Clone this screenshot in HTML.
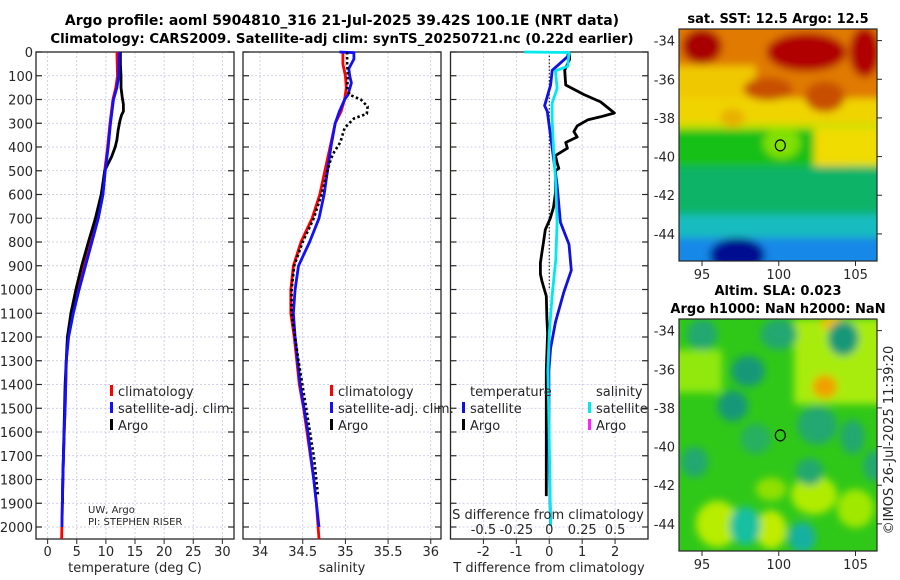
<!DOCTYPE html>
<html><head><meta charset="utf-8"><style>
html,body{margin:0;padding:0;background:#fff;width:900px;height:580px;overflow:hidden}
svg{display:block;font-family:"DejaVu Sans","Liberation Sans",sans-serif}
text{fill:#262626}
.ttl{font-weight:bold;font-size:13px;fill:#000}
</style></head><body>
<svg id="fig" width="900" height="580" viewBox="0 0 900 580" xmlns="http://www.w3.org/2000/svg">
<defs>
<filter id="blr" filterUnits="userSpaceOnUse" x="660" y="0" width="240" height="580"><feGaussianBlur stdDeviation="4"/></filter>
<clipPath id="c1"><rect x="679" y="29" width="198" height="232"/></clipPath>
<clipPath id="c2"><rect x="679" y="319" width="198" height="232"/></clipPath>
</defs>
<text class="ttl" x="342" y="25" text-anchor="middle" style="font-size:14px">Argo profile: aoml 5904810_316 21-Jul-2025 39.42S 100.1E (NRT data)</text>
<text class="ttl" x="342" y="43" text-anchor="middle" style="font-size:13.3px">Climatology: CARS2009. Satellite-adj clim: synTS_20250721.nc (0.22d earlier)</text>
<g id="g1"></g>
<g id="g2"></g>
<g id="g3"></g>
<g id="m1"></g>
<g id="m2"></g>
<text class="ttl" x="778" y="23" text-anchor="middle">sat. SST: 12.5 Argo: 12.5</text>
<text class="ttl" x="778" y="295" text-anchor="middle">Altim. SLA: 0.023</text>
<text class="ttl" x="778" y="313" text-anchor="middle">Argo h1000: NaN h2000: NaN</text>
<text x="893" y="440" font-size="13" text-anchor="middle" transform="rotate(-90 893 440)">©IMOS 26-Jul-2025 11:39:20</text>
</svg>
<script>
// ---------- data ----------
const depthTicks=[0,100,200,300,400,500,600,700,800,900,1000,1100,1200,1300,1400,1500,1600,1700,1800,1900,2000];
const tempTicks=[0,5,10,15,20,25,30];
const salTicks=[34,34.5,35,35.5,36];
const salTickLabels=["34","34.5","35","35.5","36"];
const tdiffTicks=[-2,-1,0,1,2];
const sdiffTicks=[-0.5,-0.25,0,0.25,0.5];
const sdiffTickLabels=["-0.5","-0.25","0","0.25","0.5"];

const depthClimT=[0,50,100,150,200,300,400,500,600,700,800,900,1000,1100,1200,1300,1400,1500,1600,1800,2000,2050];
const climT=[11.9,11.95,12.0,11.7,11.2,10.7,10.3,9.8,9.3,8.4,7.2,6.1,5.0,4.1,3.5,3.2,3.1,3.0,2.85,2.6,2.45,2.4];
const depthSatT=[0,50,100,150,200,300,400,500,600,700,800,900,1000,1100,1200,1300,1400,1500,1600,1800,2000];
const satT=[12.3,12.25,12.2,11.9,11.3,10.8,10.4,9.9,9.5,8.7,7.6,6.5,5.4,4.4,3.6,3.2,3.1,3.0,2.85,2.6,2.45];
const depthArgoT=[0,50,100,150,190,220,250,265,290,330,370,400,440,480,500,600,700,800,900,1000,1100,1200,1400,1600,1800,1900];
const argoT=[12.5,12.5,12.6,12.6,12.8,13.0,13.0,12.7,12.4,12.1,11.9,11.6,11.0,10.2,9.8,9.2,8.2,7.0,5.85,4.85,4.0,3.4,3.0,2.8,2.6,2.55];

const depthClimS=[0,50,100,150,200,250,300,400,500,600,700,800,900,1000,1100,1200,1300,1400,1500,1600,1700,1800,1900,2000,2050];
const climS=[34.97,34.97,35.0,35.01,34.99,34.95,34.88,34.82,34.76,34.70,34.61,34.48,34.39,34.36,34.36,34.40,34.43,34.46,34.51,34.55,34.59,34.63,34.66,34.68,34.69];
const depthSatS=[0,3,30,70,100,130,180,200,250,300,400,500,600,700,800,900,1000,1100,1200,1400,1600,1800,2000];
const satS=[34.93,35.1,35.1,35.04,35.05,35.07,35.03,34.99,34.93,34.88,34.83,34.79,34.75,34.69,34.58,34.45,34.41,34.39,34.41,34.47,34.56,34.63,34.69];
const depthArgoS=[0,50,100,150,180,200,230,260,280,320,380,420,450,500,600,700,800,900,1000,1100,1300,1500,1700,1870];
const argoS=[35.02,35.02,35.03,35.02,35.05,35.18,35.26,35.25,35.1,34.99,34.94,34.87,34.83,34.79,34.72,34.63,34.5,34.4,34.37,34.37,34.45,34.54,34.63,34.68];

const depthArgoTd=[0,30,77,139,179,210,257,273,285,311,335,358,381,405,436,467,490,500,592,654,701,748,795,842,888,935,966,1028,1122,1184,1340,1496,1652,1870];
const argoTdiff=[0.6,0.62,0.47,0.5,1.05,1.56,1.98,1.56,1.18,0.85,0.75,0.85,0.5,0.55,0.19,0.24,0.29,0.19,0.19,0.13,0.03,-0.12,-0.17,-0.22,-0.27,-0.27,-0.22,-0.09,-0.07,-0.05,-0.09,-0.09,-0.09,-0.09];
const depthSatTd=[0,20,77,139,226,250,405,561,717,810,919,1013,1137,1247,1340,1652,1995];
const satTdiff=[0.6,0.55,0.09,0.04,-0.14,-0.06,0.09,0.24,0.34,0.6,0.67,0.44,0.19,0.04,-0.01,-0.01,0.04];
const depthSatSd=[0,2,60,79,153,216,279,405,561,717,873,1028,1184,1340,1652,1995];
const satSdiff=[-0.19,0.15,0.14,0.047,0.06,0.022,0.022,0.032,0.05,0.06,0.05,0.022,0.0,-0.01,0.0,0.01];

const lonTicks=[95,100,105];
const latTicks=[-34,-36,-38,-40,-42,-44];
const argoLon=100.1, argoLat=-39.42;

// ---------- helpers ----------
const NS="http://www.w3.org/2000/svg";
function mk(tag,attrs,parent){const e=document.createElementNS(NS,tag);for(const k in attrs)e.setAttribute(k,attrs[k]);parent.appendChild(e);return e;}
const Y=d=>52+d*0.2375;
const X1=t=>36+(t+2)/34*198;
const X2=s=>243+(s-33.8)/2.32*198;
const X3=v=>450.5+(v+3)/6*197.5;
const XS=s=>X3(s*4);
const topY=52,botY=539;

function frame(g,x0,x1,xt,xfun,xlabels,yl,name){
  for(const d of depthTicks){
    const gl=mk('line',{x1:x0,x2:x1,y1:Y(d),y2:Y(d),stroke:'#c4c4e4','stroke-width':0.8,'stroke-dasharray':'2 2'},g);
    
    
  }
  xt.forEach((v,i)=>{
    const x=xfun(v);
    const gl=mk('line',{x1:x,x2:x,y1:topY,y2:botY,stroke:'#c4c4e4','stroke-width':0.8,'stroke-dasharray':'2 2'},g);
    
    
    const tk=mk('line',{x1:x,x2:x,y1:botY,y2:botY+5,stroke:'#262626','stroke-width':1},g);
    
    
    const tl=mk('text',{x:x,y:556,'font-size':13,'text-anchor':'middle'},g);
    tl.textContent=xlabels[i];
    
    
  });
  for(const d of depthTicks){
    const a=mk('line',{x1:x0,x2:x0+6,y1:Y(d),y2:Y(d),stroke:'#262626','stroke-width':1.2},g);
    
    
    const b=mk('line',{x1:x1-6,x2:x1,y1:Y(d),y2:Y(d),stroke:'#262626','stroke-width':1.2},g);
    
    
    if(yl){
      const t=mk('text',{x:33,y:Y(d)+5,'font-size':13,'text-anchor':'end'},g);
      t.textContent=String(d);
      
      
    }
  }
  const r=mk('rect',{x:x0,y:topY,width:x1-x0,height:botY-topY,fill:'none',stroke:'#262626','stroke-width':1.3},g);
  
  
}
function line(g,xs,ds,xf,color,name,dash){
  const n=Math.min(xs.length,ds.length);
  let p='';for(let i=0;i<n;i++)p+=(i?'L':'M')+xf(xs[i]).toFixed(1)+','+Y(ds[i]).toFixed(1);
  const a={d:p,fill:'none',stroke:color,'stroke-width':dash?2.6:2.8,'stroke-linejoin':'round'};
  if(dash)a['stroke-dasharray']=dash;
  const e=mk('path',a,g);
  
  
}
function legend(g,x,y,color,label,name){
  const b=mk('rect',{x:x,y:y-11,width:3,height:11,fill:color},g);
  
  
  const t=mk('text',{x:x+8,y:y,'font-size':13},g);
  t.textContent=label;
  
  
}
function txt(g,x,y,s,size,name,anchor){
  const t=mk('text',{x:x,y:y,'font-size':size,'text-anchor':anchor||'start'},g);
  t.textContent=s;
  
  
}

// ---------- panel 1 ----------
const g1=document.getElementById('g1');
frame(g1,36,234,tempTicks,X1,tempTicks.map(String),true,'temperature');
line(g1,climT,depthClimT,X1,'#ff0000','climatology-temp-line');
line(g1,argoT,depthArgoT,X1,'#000000','argo-temp-line');
line(g1,satT,depthSatT,X1,'#1010ff','satellite-temp-line');
txt(g1,135,572,'temperature (deg C)',13,'temperature-axis-title','middle');
legend(g1,110,396,'#ff0000','climatology','legend-climatology');
legend(g1,110,413,'#1010ff','satellite-adj. clim.','legend-satellite');
legend(g1,110,430,'#000','Argo','legend-argo');
txt(g1,88,513,'UW, Argo',10,'institution-label');
txt(g1,88,525,'PI: STEPHEN RISER',10,'pi-label');

// ---------- panel 2 ----------
const g2=document.getElementById('g2');
frame(g2,243,441,salTicks,X2,salTickLabels,false,'salinity');
line(g2,climS,depthClimS,X2,'#ff0000','climatology-sal-line');
line(g2,satS,depthSatS,X2,'#1010ff','satellite-sal-line');
line(g2,argoS,depthArgoS,X2,'#000000','argo-sal-line','2.5 2.5');
txt(g2,342,572,'salinity',13,'salinity-axis-title','middle');
legend(g2,330,396,'#ff0000','climatology','legend2-climatology');
legend(g2,330,413,'#1010ff','satellite-adj. clim.','legend2-satellite');
legend(g2,330,430,'#000','Argo','legend2-argo');

// ---------- panel 3 ----------
const g3=document.getElementById('g3');
frame(g3,450.5,648,tdiffTicks,X3,tdiffTicks.map(String),false,'difference');
const zl=mk('line',{x1:X3(0),x2:X3(0),y1:Y(0),y2:Y(1000),stroke:'#000','stroke-width':1,'stroke-dasharray':'1.5 2'},g3);


line(g3,argoTdiff,depthArgoTd,X3,'#000000','argo-tdiff-line');
line(g3,satTdiff,depthSatTd,X3,'#1010e0','satellite-tdiff-line');
line(g3,satSdiff,depthSatSd,XS,'#00e8f0','satellite-sdiff-line');
txt(g3,549,572,'T difference from climatology',13,'tdiff-axis-title','middle');
txt(g3,548,519,'S difference from climatology',13,'sdiff-axis-title','middle');
sdiffTicks.forEach((v,i)=>{
  const t=mk('text',{x:XS(v),y:534,'font-size':13,'text-anchor':'middle'},g3);
  t.textContent=sdiffTickLabels[i];
  
  
});
txt(g3,470,396,'temperature',13,'legend3-temperature-heading');
txt(g3,596,396,'salinity',13,'legend3-salinity-heading');
legend(g3,462,413,'#1010e0','satellite','legend3-temp-satellite');
legend(g3,462,430,'#000','Argo','legend3-temp-argo');
legend(g3,588,413,'#00e8f0','satellite','legend3-sal-satellite');
legend(g3,588,430,'#ff20ff','Argo','legend3-sal-argo');

// ---------- maps ----------
function mapAxes(g,y0,clip,name){
  const LX=l=>679+(l-93.5)/12.9*198;
  const LY=l=>y0+(-33.4-l)*19.33;
  for(const l of lonTicks){
    const a=mk('line',{x1:LX(l),x2:LX(l),y1:y0+232,y2:y0+237,stroke:'#262626'},g);
    
    
    txt(g,LX(l),y0+250,String(l),13,'lon-tick-label','middle');
  }
  for(const l of latTicks){
    const a=mk('line',{x1:877,x2:882,y1:LY(l),y2:LY(l),stroke:'#262626'},g);
    
    
    txt(g,675,LY(l)+5,String(l),13,'lat-tick-label','end');
  }
  const c=mk('ellipse',{cx:LX(argoLon),cy:LY(argoLat),rx:5,ry:5.5,fill:'none',stroke:'#000','stroke-width':1.2},g);
  
  
  const r=mk('rect',{x:679,y:y0,width:198,height:232,fill:'none',stroke:'#262626','stroke-width':1.2},g);
  
  
}
function field(g,y0,clip,bg,shapes,name){
  const LX=l=>679+(l-93.5)/12.9*198;
  const LY=l=>y0+(-33.4-l)*19.33;
  const cg=mk('g',{'clip-path':'url(#'+clip+')'},g);
  
  
  mk('rect',{x:679,y:y0,width:198,height:232,fill:bg},cg);
  const bg2=mk('g',{filter:'url(#blr)'},cg);
  for(const s of shapes){
    if(s[0]==='r'){
      mk('rect',{x:LX(s[1]),y:LY(s[2]),width:LX(s[3])-LX(s[1]),height:LY(s[4])-LY(s[2]),fill:s[5]},bg2);
    }else{
      mk('ellipse',{cx:LX(s[1]),cy:LY(s[2]),rx:s[3]*15.35,ry:s[4]*19.33,fill:s[5]},bg2);
    }
  }
}
const m1=document.getElementById('m1');
field(m1,29,'c1','#e89a00',[
 ['r',92,-32,108,-37,'#e07a00'],
 ['r',92,-35.3,98.5,-37.6,'#f0c800'],
 ['r',92,-37,108,-38.3,'#f0d400'],
 ['r',92,-38.3,108,-38.7,'#b8e400'],
 ['r',92,-38.6,102.3,-40.5,'#18c018'],
 ['r',102.3,-38.5,108,-40.5,'#f0dc00'],
 ['r',104.5,-40.4,108,-41.5,'#d8e800'],
 ['r',92,-40.5,108,-43.0,'#10b468'],
 ['r',92,-43,108,-44.2,'#18bcc0'],
 ['r',92,-44.2,108,-46,'#1888e8'],
 ['e',97.3,-45.1,1.8,0.9,'#000a90'],
 ['e',95,-34.3,1.3,0.9,'#a80000'],
 ['e',101.8,-34.6,2.6,1.0,'#b00000'],
 ['e',105.6,-34.6,1.0,1.3,'#b00000'],
 ['e',99.3,-36.5,1.6,0.6,'#c85000'],
 ['e',103,-36.9,1.3,0.8,'#c85000'],
 ['e',100.2,-39.3,1.2,0.8,'#80e000'],
 ['e',97,-38,0.8,0.5,'#e8b000']
],'sst');
mapAxes(m1,29,'c1','sst');
const m2=document.getElementById('m2');
field(m2,319,'c2','#30c818',[
 ['r',101,-33.4,108,-37.8,'#a8ec10'],
 ['r',92,-35,96.3,-37.2,'#90e810'],
 ['e',103,-36.9,0.8,0.6,'#f0a000'],
 ['e',103.5,-33.6,0.8,0.4,'#f0c000'],
 ['e',96,-44,1.4,1.2,'#b8ec00'],
 ['e',99.5,-44.3,1.0,1.0,'#c0ec00'],
 ['e',102.3,-42.5,1.5,1.0,'#b0ec00'],
 ['e',105,-43.2,1.2,1.0,'#a0e800'],
 ['e',99.5,-42.2,1.0,0.6,'#90e000'],
 ['e',95,-34.2,1.0,0.8,'#20a870'],
 ['e',100,-34.2,1.2,0.8,'#20a870'],
 ['e',104.2,-34.4,1.0,0.9,'#189878'],
 ['e',98,-36.1,1.1,0.8,'#189878'],
 ['e',97,-37.9,1.0,0.8,'#189878'],
 ['e',102.5,-38.9,1.3,1.0,'#20a870'],
 ['e',98.5,-39.6,1.0,0.8,'#28b060'],
 ['e',104.8,-39.5,0.8,0.9,'#20a870'],
 ['e',94.5,-40.8,0.9,0.8,'#20a870'],
 ['e',102,-41.3,0.9,0.7,'#20a870'],
 ['e',106.3,-41,0.8,0.8,'#20a870'],
 ['e',97.8,-44.1,1.0,1.0,'#18c0a0'],
 ['e',101.5,-44.7,0.9,0.8,'#18b0a0']
],'sla');
mapAxes(m2,319,'c2','sla');
</script>
</body></html>
